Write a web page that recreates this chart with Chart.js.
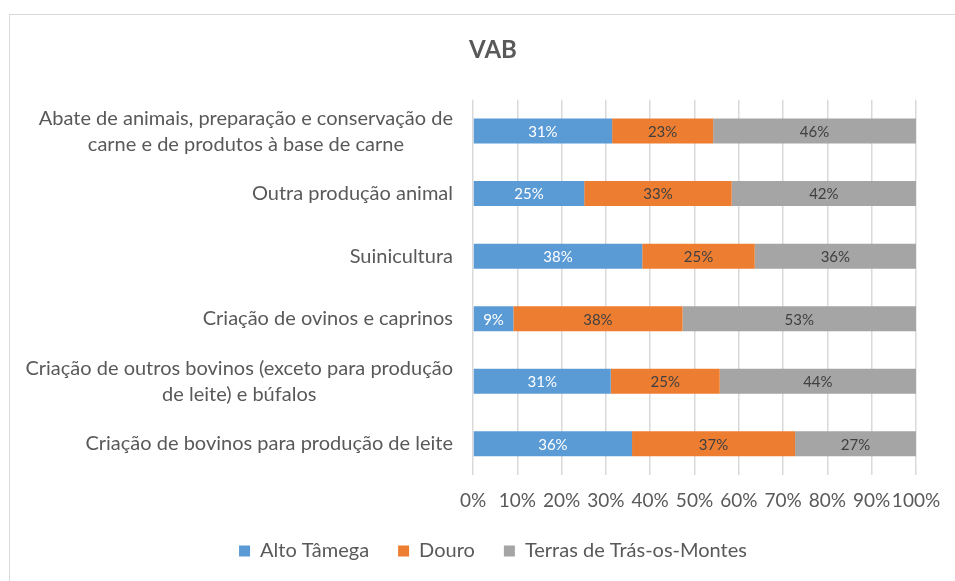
<!DOCTYPE html>
<html>
<head>
<meta charset="utf-8">
<script src="https://cdn.jsdelivr.net/npm/chart.js@4.4.1/dist/chart.umd.min.js"></script>
<style>
  html, body { margin: 0; padding: 0; background: #ffffff; overflow: hidden; width: 955px; height: 581px; }
  #frame { position: absolute; left: 9px; top: 14px; width: 966px; height: 590px; border: 1px solid #d9d9d9; background: #fff; }
  #wrap { position: absolute; left: 0; top: 0; width: 966px; height: 556px; }
</style>
</head>
<body>
<div id="frame"><div id="wrap"><canvas id="c"></canvas></div></div>
<script>
// ---- Data ----
const categories = [
  ["Abate de animais, preparação e conservação de", "carne e de produtos à base de carne"],
  "Outra produção animal",
  "Suinicultura",
  "Criação de ovinos e caprinos",
  ["Criação de outros bovinos (exceto para produção", "de leite) e búfalos"],
  "Criação de bovinos para produção de leite"
];
const seriesNames = ["Alto Tâmega", "Douro", "Terras de Trás-os-Montes"];
const altoTamega = [31.4, 25.1, 38.2, 9.1, 31.1, 35.9];
const douro      = [22.8, 33.3, 25.4, 38.2, 24.6, 36.8];
const terrasTM   = [45.8, 41.6, 36.4, 52.7, 44.3, 27.3];
const xTicks = [0, 10, 20, 30, 40, 50, 60, 70, 80, 90, 100];
const titleText = "VAB";

// ---- Styles ----
const colors = ["#5B9BD5", "#ED7D31", "#A5A5A5"];
const labelColors = ["#FFFFFF", "#404040", "#404040"];
const FONT = "Lato, 'Open Sans', sans-serif";
const TEXT = "#595959";

// Plugin: value labels inside bars
const barLabels = {
  id: 'barLabels',
  afterDatasetsDraw(chart) {
    const ctx = chart.ctx;
    ctx.save();
    ctx.font = "15px " + FONT;
    ctx.textAlign = 'center';
    ctx.textBaseline = 'middle';
    chart.data.datasets.forEach((ds, di) => {
      const meta = chart.getDatasetMeta(di);
      meta.data.forEach((bar, i) => {
        const v = ds.data[i];
        ctx.fillStyle = labelColors[di];
        ctx.fillText(Math.round(v) + '%', (bar.x + bar.base) / 2, bar.y + 1);
      });
    });
    ctx.restore();
  }
};

// Plugin: center the lines of wrapped category labels (as Excel does)
const centerWrapped = {
  id: 'centerWrapped',
  beforeDraw(chart) {
    const s = chart.scales.y;
    if (!s || s.__wrapped) return;
    const orig = s._computeLabelItems;
    s._computeLabelItems = function (area) {
      const items = orig.call(this, area);
      const ctx = this.ctx;
      items.forEach(it => {
        if (Array.isArray(it.label) && it.label.length > 1) {
          ctx.save();
          ctx.font = it.font.string;
          const w = Math.max(...it.label.map(l => ctx.measureText(l).width));
          ctx.restore();
          it.options.textAlign = 'center';
          it.options.translation = [it.options.translation[0] - w / 2, it.options.translation[1]];
        }
      });
      return items;
    };
    s.__wrapped = true;
    s._labelItems = null;
  }
};

const ctx = document.getElementById('c');
new Chart(ctx, {
  type: 'bar',
  data: {
    labels: categories,
    datasets: [
      { label: seriesNames[0], data: altoTamega, backgroundColor: colors[0] },
      { label: seriesNames[1], data: douro, backgroundColor: colors[1] },
      { label: seriesNames[2], data: terrasTM, backgroundColor: colors[2] }
    ]
  },
  options: {
    indexAxis: 'y',
    responsive: true,
    maintainAspectRatio: false,
    animation: false,
    categoryPercentage: 1.0,
    barPercentage: 0.4,
    layout: { padding: { left: 0, right: 0, top: 0, bottom: 0 } },
    scales: {
      x: {
        stacked: true,
        min: 0, max: 100,
        afterBuildTicks(scale) { scale.ticks = xTicks.map(v => ({ value: v })); },
        afterFit(scale) { scale.height = 37; },
        grid: { color: '#d9d9d9', lineWidth: 1.5, drawTicks: false },
        border: { display: false },
        ticks: {
          color: TEXT, padding: 14, maxRotation: 0, minRotation: 0, autoSkip: false,
          font: { family: FONT, size: 19 },
          callback: v => v + '%'
        }
      },
      y: {
        stacked: true,
        grid: { display: false, drawTicks: false },
        border: { display: false },
        afterFit(scale) { scale.width = 463; },
        ticks: {
          color: TEXT, padding: 20,
          font: { family: FONT, size: 20, lineHeight: 1.3 }
        }
      },
      spacer: {
        type: 'linear',
        position: 'right',
        display: true,
        grid: { display: false, drawTicks: false },
        border: { display: false },
        ticks: { display: false },
        afterFit(scale) { scale.width = 60; }
      }
    },
    plugins: {
      title: {
        display: true, text: titleText, color: TEXT,
        font: { family: FONT, size: 24, weight: 'bold' },
        padding: { top: 21, bottom: 35 }
      },
      legend: {
        position: 'bottom',
        labels: {
          color: TEXT, boxWidth: 11, boxHeight: 11, padding: 29,
          font: { family: FONT, size: 20 }
        }
      },
      tooltip: { enabled: false }
    }
  },
  plugins: [barLabels, centerWrapped]
});
</script>
</body>
</html>
